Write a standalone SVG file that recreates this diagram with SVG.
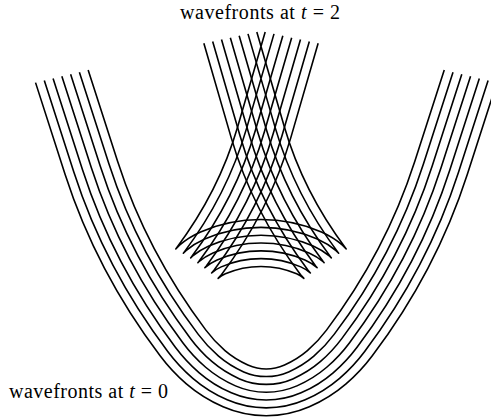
<svg xmlns="http://www.w3.org/2000/svg" width="491" height="419" viewBox="0 0 491 419">
<style>
.wf{fill:none;stroke:#000;stroke-width:1.6;stroke-linejoin:round;stroke-linecap:butt;vector-effect:non-scaling-stroke}
.lbl{font-family:"Liberation Serif","Times New Roman",serif;font-size:20px;fill:#000}
</style>
<rect width="491" height="419" fill="#fff"/>
<g id="wavefronts-t0" transform="translate(266.2,415.7) scale(1,-0.86)">
<path id="t0-1" class="wf" d="M -230.66 387.30 L -201.07 280.59 A 760 760 0 0 1 -106.10 69.77 A 200.8 200.8 0 0 1 -79.83 37.02 A 145 145 0 0 1 -43.13 10.35 A 95 95 0 0 1 43.13 10.35 A 145 145 0 0 1 79.83 37.02 A 200.8 200.8 0 0 1 106.10 69.77 A 760 760 0 0 1 201.07 280.59 L 230.66 387.30"/>
<path id="t0-2" class="wf" d="M -221.89 389.73 L -192.30 283.02 A 750.9 750.9 0 0 1 -98.47 74.73 A 191.7 191.7 0 0 1 -73.40 43.46 A 135.9 135.9 0 0 1 -39.00 18.46 A 85.9 85.9 0 0 1 39.00 18.46 A 135.9 135.9 0 0 1 73.40 43.46 A 191.7 191.7 0 0 1 98.47 74.73 A 750.9 750.9 0 0 1 192.30 283.02 L 221.89 389.73"/>
<path id="t0-3" class="wf" d="M -213.12 392.16 L -183.53 285.45 A 741.8 741.8 0 0 1 -90.84 79.68 A 182.6 182.6 0 0 1 -66.96 49.89 A 126.8 126.8 0 0 1 -34.87 26.57 A 76.8 76.8 0 0 1 34.87 26.57 A 126.8 126.8 0 0 1 66.96 49.89 A 182.6 182.6 0 0 1 90.84 79.68 A 741.8 741.8 0 0 1 183.53 285.45 L 213.12 392.16"/>
<path id="t0-4" class="wf" d="M -204.35 394.60 L -174.76 287.89 A 732.7 732.7 0 0 1 -83.20 84.64 A 173.5 173.5 0 0 1 -60.53 56.32 A 117.7 117.7 0 0 1 -30.74 34.68 A 67.7 67.7 0 0 1 30.74 34.68 A 117.7 117.7 0 0 1 60.53 56.32 A 173.5 173.5 0 0 1 83.20 84.64 A 732.7 732.7 0 0 1 174.76 287.89 L 204.35 394.60"/>
<path id="t0-5" class="wf" d="M -195.58 397.03 L -165.99 290.32 A 723.6 723.6 0 0 1 -75.57 89.60 A 164.4 164.4 0 0 1 -54.09 62.76 A 108.6 108.6 0 0 1 -26.61 42.78 A 58.6 58.6 0 0 1 26.61 42.78 A 108.6 108.6 0 0 1 54.09 62.76 A 164.4 164.4 0 0 1 75.57 89.60 A 723.6 723.6 0 0 1 165.99 290.32 L 195.58 397.03"/>
<path id="t0-6" class="wf" d="M -186.81 399.46 L -157.22 292.75 A 714.5 714.5 0 0 1 -67.94 94.55 A 155.3 155.3 0 0 1 -47.66 69.19 A 99.5 99.5 0 0 1 -22.47 50.89 A 49.5 49.5 0 0 1 22.47 50.89 A 99.5 99.5 0 0 1 47.66 69.19 A 155.3 155.3 0 0 1 67.94 94.55 A 714.5 714.5 0 0 1 157.22 292.75 L 186.81 399.46"/>
<path id="t0-7" class="wf" d="M -178.05 401.89 L -148.46 295.18 A 705.4 705.4 0 0 1 -60.31 99.51 A 146.2 146.2 0 0 1 -41.22 75.63 A 90.4 90.4 0 0 1 -18.34 59.00 A 40.4 40.4 0 0 1 18.34 59.00 A 90.4 90.4 0 0 1 41.22 75.63 A 146.2 146.2 0 0 1 60.31 99.51 A 705.4 705.4 0 0 1 148.46 295.18 L 178.05 401.89"/>
</g>
<g id="wavefronts-t2" transform="translate(261,415.7) scale(1,-0.86)">
<path id="t2-1" class="wf" d="M -57.15 432.97 L -29.89 323.64 A 526.5 526.5 0 0 1 39.41 164.27 L 42.85 159.70 A 28.5 28.5 0 0 1 35.64 164.94 A 78.5 78.5 0 0 1 -35.64 164.94 A 28.5 28.5 0 0 1 -42.85 159.70 L -39.41 164.27 A 526.5 526.5 0 0 1 29.89 323.64 L 57.15 432.97"/>
<path id="t2-2" class="wf" d="M -48.32 435.18 L -21.06 325.85 A 517.4 517.4 0 0 1 47.04 169.22 L 49.39 166.02 L 49.29 166.14 A 37.6 37.6 0 0 1 39.77 173.05 A 87.6 87.6 0 0 1 -39.77 173.05 A 37.6 37.6 0 0 1 -49.29 166.14 L -49.39 166.02 L -47.04 169.22 A 517.4 517.4 0 0 1 21.06 325.85 L 48.32 435.18"/>
<path id="t2-3" class="wf" d="M -39.49 437.38 L -12.23 328.05 A 508.3 508.3 0 0 1 54.67 174.18 L 56.16 172.12 L 55.72 172.57 A 46.7 46.7 0 0 1 43.90 181.16 A 96.7 96.7 0 0 1 -43.90 181.16 A 46.7 46.7 0 0 1 -55.72 172.57 L -56.16 172.12 L -54.67 174.18 A 508.3 508.3 0 0 1 12.23 328.05 L 39.49 437.38"/>
<path id="t2-4" class="wf" d="M -30.66 439.58 L -3.40 330.25 A 499.2 499.2 0 0 1 62.31 179.13 L 63.13 177.96 L 62.16 179.01 A 55.8 55.8 0 0 1 48.03 189.27 A 105.8 105.8 0 0 1 -48.03 189.27 A 55.8 55.8 0 0 1 -62.16 179.01 L -63.13 177.96 L -62.31 179.13 A 499.2 499.2 0 0 1 3.40 330.25 L 30.66 439.58"/>
<path id="t2-5" class="wf" d="M -21.83 441.78 L 5.43 332.45 A 490.1 490.1 0 0 1 69.94 184.09 L 70.30 183.56 L 68.59 185.44 A 64.9 64.9 0 0 1 52.16 197.37 A 114.9 114.9 0 0 1 -52.16 197.37 A 64.9 64.9 0 0 1 -68.59 185.44 L -70.30 183.56 L -69.94 184.09 A 490.1 490.1 0 0 1 -5.43 332.45 L 21.83 441.78"/>
<path id="t2-6" class="wf" d="M -13.00 443.98 L 14.26 334.65 A 481 481 0 0 1 77.57 189.05 L 77.65 188.91 L 75.03 191.88 A 74 74 0 0 1 56.29 205.48 A 124 124 0 0 1 -56.29 205.48 A 74 74 0 0 1 -75.03 191.88 L -77.65 188.91 L -77.57 189.05 A 481 481 0 0 1 -14.26 334.65 L 13.00 443.98"/>
<path id="t2-7" class="wf" d="M -4.18 446.18 L 23.09 336.85 A 471.9 471.9 0 0 1 85.20 194.00 L 81.46 198.31 A 83.1 83.1 0 0 1 60.43 213.59 A 133.1 133.1 0 0 1 -60.43 213.59 A 83.1 83.1 0 0 1 -81.46 198.31 L -85.20 194.00 A 471.9 471.9 0 0 1 -23.09 336.85 L 4.18 446.18"/>
</g>
<g id="labels">
<text id="label-t2" class="lbl" x="180" y="19" textLength="160" lengthAdjust="spacing">wavefronts at <tspan font-style="italic">t</tspan> = 2</text>
<text id="label-t0" class="lbl" x="9" y="398" textLength="159" lengthAdjust="spacing">wavefronts at <tspan font-style="italic">t</tspan> = 0</text>
</g>
</svg>
